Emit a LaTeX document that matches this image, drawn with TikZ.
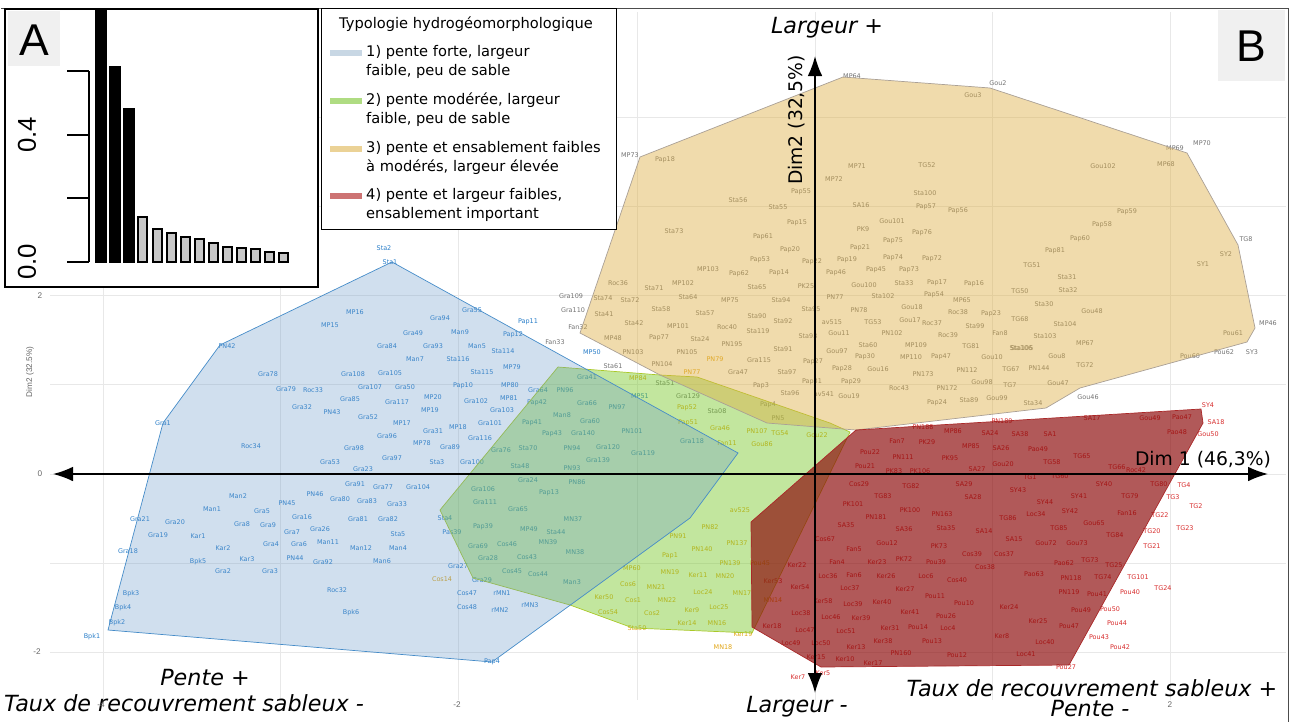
\documentclass[tikz,border=0pt]{standalone}
\usepackage{fontspec}
\setmainfont{DejaVu Sans}
\newfontfamily\arialf{Liberation Sans}
\usetikzlibrary{arrows.meta}
\definecolor{fillB}{RGB}{100,150,200}
\definecolor{fillG}{RGB}{120,200,40}
\definecolor{fillT}{RGB}{222,175,70}
\definecolor{fillR}{RGB}{140,10,10}
\definecolor{edgeB}{RGB}{70,140,200}
\definecolor{edgeG}{RGB}{170,200,40}
\definecolor{edgeT}{RGB}{170,160,150}
\definecolor{edgeR}{RGB}{170,40,40}
\definecolor{labB}{RGB}{40,125,200}
\definecolor{labG}{RGB}{225,165,20}
\definecolor{labT}{RGB}{115,115,115}
\definecolor{labR}{RGB}{215,45,45}
\definecolor{keyB}{RGB}{200,215,228}
\definecolor{keyG}{RGB}{175,220,130}
\definecolor{keyT}{RGB}{235,210,150}
\definecolor{keyR}{RGB}{205,115,115}
\definecolor{gridc}{RGB}{232,232,232}
\definecolor{boxgray}{RGB}{240,240,240}
\begin{document}
\begin{tikzpicture}[x=0.03cm,y=-0.03cm,
  ptB/.style={font=\fontsize{5.5}{6}\selectfont,text=labB,inner sep=0pt},
  ptG/.style={font=\fontsize{5.5}{6}\selectfont,text=labG,inner sep=0pt},
  ptT/.style={font=\fontsize{5.5}{6}\selectfont,text=labT,inner sep=0pt},
  ptR/.style={font=\fontsize{5.5}{6}\selectfont,text=labR,inner sep=0pt},
  hullB/.style={fill=fillB,fill opacity=0.3,draw=edgeB,line width=0.6pt},
  hullG/.style={fill=fillG,fill opacity=0.45,draw=edgeG,line width=0.6pt},
  hullT/.style={fill=fillT,fill opacity=0.45,draw=edgeT,line width=0.6pt},
  hullR/.style={fill=fillR,fill opacity=0.68,draw=edgeR,line width=0.6pt},
  axe/.style={line width=1.4pt,{Latex[length=6mm,width=4.4mm]}-{Latex[length=6mm,width=4.4mm]}},
  big/.style={font=\fontsize{19}{19}\selectfont\itshape},
  dimlab/.style={font=\fontsize{16}{16}\selectfont},
  tick/.style={font=\arialf\fontsize{7}{7}\selectfont,text=black!60},
  legtext/.style={font=\fontsize{12.5}{16}\selectfont,align=left,anchor=west,inner sep=0pt},
  keyline/.style={line width=5pt},
  bar/.style={draw,line width=1.2pt}]
\useasboundingbox (0,0) rectangle (1291,722);
% grid of the factor map
\foreach \gx in {103,280,458,637,815,992,1170} \draw[gridc,line width=0.5pt] (\gx,12) -- (\gx,700);
\foreach \gy in {117,206,295,384,474,563,652} \draw[gridc,line width=0.5pt] (50,\gy) -- (1286,\gy);
% individuals
\foreach \n/\x/\y in {MP16/355/312,MP15/330/325,PN42/227/346,Gra49/413/333,Gra84/387/346,Gra93/433/346,Man7/415/359,Gra78/268/374,Gra108/353/374,Gra105/390/373,Gra79/286/389,Roc33/313/390,Gra107/370/387,Gra50/405/387,Gra85/350/399,Gra117/397/402,MP20/433/397,Gra32/302/407,PN43/332/412,Gra52/368/417,MP19/430/410,MP17/402/423,Gra1/163/423,Gra31/433/431,Gra96/387/436,Roc34/251/446,Gra98/354/448,MP78/422/443,Gra53/330/462,Gra97/392/458,Sta3/437/462,Gra23/363/469,Gra91/355/484,Gra77/383/487,Gra104/418/487,Man2/238/496,PN46/315/494,Gra80/340/499,Gra83/367/501,Man1/212/509,PN45/287/503,Gra5/262/511,Gra33/397/504,Gra21/140/519,Gra20/175/522,Gra16/302/517,Gra81/358/519,Gra82/388/519,Gra8/242/524,Gra9/268/525,Gra26/320/529,Gra7/292/532,Gra19/158/535,Kar1/198/536,Gra4/271/544,Gra6/299/544,Man11/328/542,Sta5/398/534,Gra18/128/551,Kar2/223/548,Man12/361/548,Man4/398/548,Bpk5/198/562,Kar3/247/559,PN44/295/558,Gra92/323/562,Man6/382/561,Gra2/223/571,Gra3/270/571,Bpk3/131/594,Roc32/337/590,Bpk4/123/608,Bpk6/351/613,Bpk2/117/623,Bpk1/92/637,Gra94/440/318,Gra55/472/310,Pap11/528/322,Man9/460/332,Pap12/513/335,Man5/477/346,Sta114/503/351,Sta116/458/359,Sta115/482/372,MP79/512/367,Pap10/463/386,MP80/510/385,MP81/509/398,Gra102/476/401,Gra103/502/410,MP18/458/427,Gra101/490/423,Gra116/480/438,Gra89/450/447,Gra76/501/450,Gra100/472/462,Gra24/528/480,Gra106/483/489,Gra111/485/502,Gra65/518/509,Sta4/445/518,Pap39/483/527,Pas39/452/532,Gra69/478/546,Cos46/507/544,Gra28/488/558,Cos43/527/557,Gra27/458/566,Cos45/512/571,Cos44/538/574,Gra29/482/580,Man3/572/582,Cos47/467/593,rMN1/502/593,Cos48/467/607,rMN2/500/610,rMN3/530/605,Pap4/492/662,MP50/592/352,Gra41/587/377,PN96/565/390,MP51/640/396,Gra64/538/390,PN97/617/407,Pap42/537/403,Gra66/587/403,Man8/562/415,Gra60/590/421,Pap41/532/423,Pap43/552/434,Gra140/583/433,PN101/632/431,Gra118/692/441,Gra120/608/447,PN94/572/448,Sta70/528/448,Gra119/643/453,Gra139/598/460,Sta48/520/466,PN93/572/468,PN86/577/482,Pap13/549/493,MN37/573/519,MP49/529/529,Sta44/556/532,MN39/548/542,MN38/575/552,Sta2/384/248,Sta1/390/262}
  \node[ptB] (\n) at (\x,\y) {\n};
\foreach \n/\x/\y in {PN82/710/527,PN91/678/536,PN140/702/549,PN137/737/543,PN139/730/563,Pap1/670/556,MP60/632/568,MN19/670/572,Ker11/698/575,MN20/725/576,Cos6/628/584,MN21/656/587,Loc24/703/592,MN17/742/593,Ker50/604/597,Cos1/633/600,MN22/667/600,Loc25/719/607,Cos54/608/612,Cos2/652/613,Ker9/692/610,Ker14/687/623,MN16/717/623,Sta50/637/628,Ker19/743/634,MN18/723/647,Pap52/687/408,Gra46/720/428,PN107/757/431,TG54/780/433,Gou86/762/444,Fan11/727/443,Gou22/817/435,av525/740/510,MP84/638/378,PN79/715/359,PN77/692/372,Pap51/688/423,Cos14/442/579,MN14/773/600,Pou45/760/563}
  \node[ptG] (\n) at (\x,\y) {\n};
\foreach \n/\x/\y in {MP64/852/76,Gou2/998/83,Gou3/973/95,MP73/630/155,Pap18/665/160,MP71/857/166,TG52/927/165,MP72/834/179,Pap55/801/192,Sta100/925/193,Sta56/738/200,Sta55/778/207,SA16/861/205,Pap57/926/207,Pap56/958/211,Pap15/797/223,Gou101/892/221,PK9/863/229,Sta73/674/231,Pap76/922/233,Pap75/893/241,Pap61/763/237,Pap20/790/250,Pap21/860/248,Pap53/760/260,Pap19/847/260,Pap74/893/258,Pap72/932/259,MP103/708/269,Pap22/812/262,Pap62/739/274,Pap14/779/273,Pap46/836/273,Pap45/876/270,Pap73/909/270,Roc36/618/283,Sta71/654/288,MP102/683/283,Sta65/757/287,PK25/806/286,Gou100/864/285,Sta33/904/283,Pap17/937/283,Pap16/974/284,Sta74/603/298,Sta72/630/300,Sta64/688/297,MP75/730/300,Sta94/781/300,PN77/835/297,Sta102/883/296,Pap54/934/295,MP65/962/300,Sta41/604/314,Sta58/661/309,Sta57/705/313,Sta95/811/309,PN78/859/310,Gou18/912/307,Roc38/958/312,Pap23/991/314,Sta42/634/323,MP101/678/326,Sta90/757/316,Sta92/783/321,av515/832/322,TG53/873/322,Gou17/910/320,Roc37/932/323,Sta99/975/326,Roc40/727/327,Sta119/758/331,Gou11/839/333,PN102/892/333,Roc39/948/335,Fan8/1000/333,MP48/613/338,Pap77/659/338,Sta24/700/339,PN195/732/344,Sta93/808/336,Sta60/868/345,MP109/916/345,TG81/971/346,Sta105/1022/348,PN103/633/352,PN105/687/352,Sta91/783/349,Gou97/837/351,Pap30/865/357,MP110/911/357,Pap47/941/357,Gou10/992/357,Sta61/613/366,PN104/662/364,Gra115/759/360,Pap27/813/362,Pap28/842/369,Gou16/878/369,PN173/923/374,PN112/967/370,TG67/1011/369,PN144/1039/368,Gra47/738/372,Sta97/787/372,Pap31/812/382,Pap29/851/382,Roc43/899/388,PN172/947/388,Gou98/982/382,TG7/1010/385,Pap3/761/386,Sta96/790/393,av541/824/394,Gou19/849/396,Gou99/997/398,Sta34/1033/403,Pap24/937/403,Sta89/969/400,Gra109/571/296,Gra110/573/310,Fan32/578/327,Fan33/555/342,Gou102/1103/166,MP69/1175/148,MP70/1202/143,MP68/1166/164,Pap59/1127/212,Pap58/1102/225,Pap60/1080/239,Pap81/1055/251,TG8/1246/239,SY2/1226/254,SY1/1203/264,TG51/1032/265,Sta31/1067/277,Sta32/1068/290,TG50/1020/291,Sta30/1044/304,Gou48/1092/311,TG68/1020/319,Sta104/1065/324,Sta103/1045/336,MP46/1268/323,MP67/1085/343,Sta106/1021/348,Pou61/1233/333,Pou60/1190/356,Pou62/1224/352,SY3/1252/352,Gou8/1057/356,TG72/1085/365,Gou47/1058/383,Gou46/1088/397,Sta51/665/383,Gra129/688/396,Sta08/717/411,Pap4/768/405,PN5/778/418}
  \node[ptT] (\n) at (\x,\y) {\n};
\foreach \n/\x/\y in {SY4/1208/405,Gou49/1150/418,Pao47/1182/417,SA18/1216/422,SA17/1092/418,PN189/1002/421,PN188/923/427,MP86/953/431,Pao48/1177/432,Gou50/1208/434,SA24/990/433,SA38/1020/434,SA1/1050/434,Fan7/897/441,PK29/927/442,MP85/971/446,SA26/1001/448,Pao49/1038/449,Pou22/870/452,PN111/903/457,PK95/950/458,TG65/1082/456,TG58/1052/462,Gou20/1003/464,Pou21/865/466,SA27/977/469,TG66/1117/467,Roc42/1136/470,PK83/894/471,PK106/920/471,TG1/1030/477,TG60/1060/476,Cos29/859/484,TG82/911/486,SA29/964/484,SY40/1104/484,TG80/1159/484,TG4/1184/485,TG83/883/496,SA28/973/497,SY43/1018/490,SY41/1079/496,TG79/1130/496,TG3/1173/497,TG2/1196/506,SY44/1045/502,PK101/853/504,PK100/910/510,PN181/876/517,PN163/942/514,Loc34/1036/514,SY42/1070/511,Fan16/1127/513,TG22/1160/515,SA35/846/525,SA36/904/529,Sta35/946/528,TG86/1008/518,Gou65/1094/523,TG23/1185/528,SA14/984/531,TG85/1059/528,TG84/1115/535,TG20/1152/531,Cos67/825/539,Gou12/887/543,SA15/1014/539,Gou72/1046/543,Gou73/1077/543,TG21/1152/546,Fan5/854/549,PK73/939/546,Cos39/972/554,Cos37/1004/554,Fan4/837/562,Ker23/877/562,PK72/904/559,Pou39/936/562,Cos38/985/567,Pao62/1064/563,TG73/1090/560,TG25/1114/565,Ker22/797/565,Loc36/828/576,Fan6/854/575,Ker26/886/576,Loc6/926/576,Pao63/1034/574,PN118/1071/578,TG74/1103/577,TG101/1138/577,Cos40/957/580,Ker53/773/581,Ker54/800/587,Loc37/850/588,Ker27/905/589,TG24/1163/588,Pou11/935/596,PN119/1069/592,Pou41/1097/594,Pou40/1130/592,Ker58/823/601,Loc39/853/604,Ker40/882/602,Pou10/964/603,Ker24/1009/607,Loc38/801/613,Ker41/910/612,Pou49/1081/610,Pou50/1110/609,Ker18/772/626,Loc46/831/617,Ker39/861/618,Pou26/946/616,Ker25/1038/621,Pou47/1069/626,Pou44/1117/623,Loc47/805/630,Loc51/846/631,Ker31/890/628,Pou14/918/627,Loc4/948/628,Pou43/1099/637,Loc49/791/643,Loc50/821/643,Ker38/883/641,Pou13/932/641,Ker8/1002/636,Loc40/1045/642,Pou42/1120/647,Ker13/856/647,PN160/901/653,Pou12/957/655,Loc41/1026/654,Ker15/816/657,Ker10/845/659,Ker17/873/663,Pou27/1066/667,Ker7/798/677,Ker5/823/673}
  \node[ptR] (\n) at (\x,\y) {\n};
% convex hulls of the four types
\filldraw[hullG] (558,367) -- (660,375) -- (697,377) -- (830,423) -- (850,432) -- (752,633) -- (633,628) -- (570,605) -- (473,578) -- (440,510) -- cycle;
\filldraw[hullB] (108,630) -- (163,423) -- (220,345) -- (392,262) -- (738,453) -- (690,518) -- (492,662) -- cycle;
\filldraw[hullT] (640,157) -- (843,77) -- (990,88) -- (1187,153) -- (1238,245) -- (1255,328) -- (1247,342) -- (1080,388) -- (1046,408) -- (856,430) -- (830,428) -- (767,423) -- (660,375) -- (580,333) -- cycle;
\filldraw[hullR] (751,522) -- (856,430) -- (1201,409) -- (1203,423) -- (1069,665) -- (821,667) -- (752,627) -- cycle;
% axes
\coordinate (xw) at (53,474);
\coordinate (xe) at (1268,474);
\coordinate (yn) at (815,56);
\coordinate (ys) at (815,693);
\draw[axe] (xw) -- (xe);
\draw[axe] (ys) -- (yn);
\node[dimlab] (dim1) at (1203,460) {Dim 1 (46,3\%)};
\node[dimlab,rotate=90] (dim2) at (797,120) {Dim2 (32,5\%)};
\node[big] (lplus) at (827,28) {Largeur +};
\node[big] (lminus) at (797,707) {Largeur -};
\node[big] (pplus) at (205,678) {Pente +};
\node[big] (tminus) at (184,703) {Taux de recouvrement sableux -};
\node[big] (tplus) at (1092,688) {Taux de recouvrement sableux +};
\node[big] (pminus) at (1090,709) {Pente -};
% ticks of the factor map
\node[tick] (t2) at (40,296) {2};
\node[tick] (t0) at (40,474) {0};
\node[tick] (tm2) at (37,652) {-2};
\node[tick] (xm4) at (101,705) {-4};
\node[tick] (xm2) at (457,705) {-2};
\node[tick] (x2) at (1170,705) {2};
\node[tick,rotate=90] (dimsmall) at (30,372) {Dim2 (32.5\%)};
% frame and B
\draw[black!70,line width=0.8pt] (1,8) -- (1288,8) -- (1288,722);
\fill[boxgray] (1218,10) rectangle (1285,81);
\node[font=\arialf\fontsize{38}{38}\selectfont] (labB) at (1251,46) {B};
% legend
\draw[fill=white,line width=0.6pt] (321,8) rectangle (616,229);
\node[font=\fontsize{12.5}{14}\selectfont] (legT) at (466,24) {Typologie hydrogéomorphologique};
\draw[keyline,keyB] (330,53) -- (362,53);
\draw[keyline,keyG] (330,101) -- (362,101);
\draw[keyline,keyT] (330,149) -- (362,149);
\draw[keyline,keyR] (330,196) -- (362,196);
\node[legtext] (leg1) at (366,62) {1) pente forte, largeur\\faible, peu de sable};
\node[legtext] (leg2) at (366,110) {2) pente modérée, largeur\\faible, peu de sable};
\node[legtext] (leg3) at (366,158) {3) pente et ensablement faibles\\à modérés, largeur élevée};
\node[legtext] (leg4) at (366,205) {4) pente et largeur faibles,\\ensablement important};
% inset A : eigenvalues
\draw[fill=white,line width=1.2pt] (5,9) rectangle (318,287);
\fill[boxgray] (8,11) rectangle (60,66);
\node[font=\arialf\fontsize{38}{38}\selectfont] (labA) at (34,40) {A};
\draw[line width=1.6pt] (89,71) -- (89,262);
\foreach \ty in {71,135,198,262} \draw[line width=1.6pt] (67,\ty) -- (89,\ty);
\node[rotate=90,font=\arialf\fontsize{22}{22}\selectfont] (v04) at (27,135) {0.4};
\node[rotate=90,font=\arialf\fontsize{22}{22}\selectfont] (v00) at (27,262) {0.0};
\foreach \bx/\by in {96/11,110/67,124/109} \filldraw[bar,fill=black] (\bx,262) rectangle (\bx+10,\by);
\foreach \bx/\by in {138/217,153/229,167/233,181/237,195/239,209/243,223/247,237/248,251/249,265/252,279/253} \filldraw[bar,fill=black!22] (\bx,262) rectangle (\bx+9,\by);
\end{tikzpicture}
\end{document}
